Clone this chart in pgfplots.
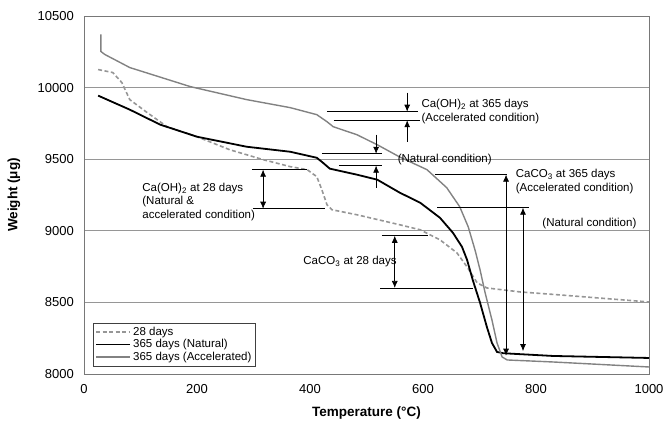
\documentclass[border=0pt]{standalone}
\usepackage{fontspec}
\setmainfont{Liberation Sans}
\usepackage{pgfplots}
\pgfplotsset{compat=1.18}
\usetikzlibrary{arrows.meta,calc}
\definecolor{gridc}{RGB}{150,150,150}
\definecolor{framec}{RGB}{120,120,120}
\definecolor{dashc}{RGB}{150,150,150}
\definecolor{accc}{RGB}{130,130,130}
\begin{document}
\begin{tikzpicture}
\begin{axis}[
  scale only axis, width=565pt, height=358pt,
  xmin=0, xmax=1000, ymin=8000, ymax=10500,
  xtick={0,200,...,1000}, ytick={8000,8500,...,10500},
  scaled ticks=false,
  /pgf/number format/assume math mode=true,
  /pgf/number format/1000 sep={},
  major tick length=0pt,
  ymajorgrids, grid style={gridc, line width=0.8pt},
  axis line style={framec, line width=0.9pt},
  tick label style={font=\fontsize{13}{15}\selectfont},
  yticklabel style={inner sep=0pt, xshift=-10pt},
  xticklabel style={inner sep=0pt, yshift=-10pt},
  every axis y label/.style={at={(axis description cs:-0.124,0.5)}, rotate=90, anchor=center, font=\fontsize{13.5}{15}\selectfont\bfseries},
  every axis x label/.style={at={(axis description cs:0.5,-0.109)}, anchor=center, font=\fontsize{13.5}{15}\selectfont\bfseries},
  xlabel={Temperature (°C)}, ylabel={Weight (μg)},
  legend style={at={(axis description cs:0.016,0.022)}, anchor=south west, draw=black!75, line width=0.6pt,
    font=\fontsize{11.5}{13}\selectfont, row sep=-1.5pt, inner sep=2pt},
  legend cell align=left,
  legend image code/.code={\draw[#1] (0pt,0pt) -- (34pt,0pt);},
  clip=false,
]
\addplot[dashc, line width=1.6pt, dash pattern=on 4pt off 2.5pt] coordinates {
(25,10126) (51,10105) (67,10035) (81,9916) (112,9825) (147,9727) (200,9657) (258,9566) (317,9497) (365,9448) (395,9427) (412,9378) (421,9287) (430,9182) (439,9147) (483,9112) (559,9042) (595,9007) (630,8937) (660,8846) (678,8748) (696,8636) (713,8601) (772,8573) (830,8556) (1000,8503)
};
\addlegendentry{28 days}
\addplot[black, line width=1.8pt] coordinates {
(25,9944) (81,9846) (135,9741) (200,9657) (288,9587) (365,9552) (412,9510) (423,9475) (435,9434) (483,9392) (519,9357) (559,9266) (595,9196) (630,9091) (653,8986) (669,8888) (678,8797) (688,8657) (701,8497) (713,8329) (722,8217) (731,8154) (742,8145) (830,8126) (1000,8112)
};
\addlegendentry{365 days (Natural)}
\addplot[accc, line width=1.4pt] coordinates {
(30,10371) (30,10252) (37,10231) (81,10140) (188,10007) (288,9916) (365,9860) (412,9811) (430,9762) (441,9727) (483,9671) (519,9601) (559,9515) (607,9427) (642,9301) (665,9168) (680,9028) (692,8867) (701,8727) (710,8566) (722,8378) (731,8217) (740,8119) (749,8098) (830,8084) (1000,8049)
};
\addlegendentry{365 days (Accelerated)}

% annotations
\tikzset{ar/.style={line width=0.7pt, -{Latex[length=7pt,width=6pt]}},
         dar/.style={line width=0.7pt, {Latex[length=7pt,width=6pt]}-{Latex[length=7pt,width=6pt]}},
         ln/.style={line width=0.8pt},
         lab/.style={font=\fontsize{11.5}{13.5}\selectfont, inner sep=0pt, align=left}}
% Ca(OH)2 at 365 days accelerated
\draw[ln] (axis cs:430,9832) -- (axis cs:591,9832);
\draw[ln] (axis cs:442,9772) -- (axis cs:595,9772);
\draw[ar] (axis cs:572,9965) -- (axis cs:572,9832);
\draw[ar] (axis cs:572,9622) -- (axis cs:572,9772);
\node[lab, anchor=west] at (axis cs:597,9832) {Ca(OH)\textsubscript{2} at 365 days\\(Accelerated condition)};
% natural
\draw[ln] (axis cs:421,9538) -- (axis cs:527,9538);
\draw[ln] (axis cs:451,9455) -- (axis cs:527,9455);
\draw[ar] (axis cs:517,9671) -- (axis cs:517,9538);
\draw[ar] (axis cs:517,9301) -- (axis cs:517,9455);
\node[lab, anchor=west] at (axis cs:555,9497) {(Natural condition)};
% CaCO3 at 365 days accelerated
\draw[ln] (axis cs:621,9392) -- (axis cs:749,9392);
\draw[dar] (axis cs:747,9392) -- (axis cs:747,8128);
\node[lab, anchor=west] at (axis cs:764,9343) {CaCO\textsubscript{3} at 365 days\\(Accelerated condition)};
% natural
\draw[ln] (axis cs:625,9161) -- (axis cs:788,9161);
\draw[dar] (axis cs:777,9161) -- (axis cs:777,8160);
\node[lab, anchor=west] at (axis cs:811,9049) {(Natural condition)};
% Ca(OH)2 at 28 days
\draw[ln] (axis cs:297,9427) -- (axis cs:395,9427);
\draw[ln] (axis cs:299,9154) -- (axis cs:427,9154);
\draw[dar] (axis cs:317,9427) -- (axis cs:317,9154);
\node[lab, anchor=west] at (axis cs:103,9203) {Ca(OH)\textsubscript{2} at 28 days\\(Natural \&\\accelerated condition)};
% CaCO3 at 28 days
\draw[ln] (axis cs:527,8965) -- (axis cs:609,8965);
\draw[ln] (axis cs:524,8601) -- (axis cs:688,8601);
\draw[dar] (axis cs:550,8965) -- (axis cs:550,8601);
\node[lab, anchor=west] at (axis cs:388,8783) {CaCO\textsubscript{3} at 28 days};
\end{axis}
\pgfresetboundingbox
\path ($(current axis.south west)+(-84pt,-54pt)$) rectangle ($(current axis.north east)+(16pt,16pt)$);
\end{tikzpicture}
\end{document}
